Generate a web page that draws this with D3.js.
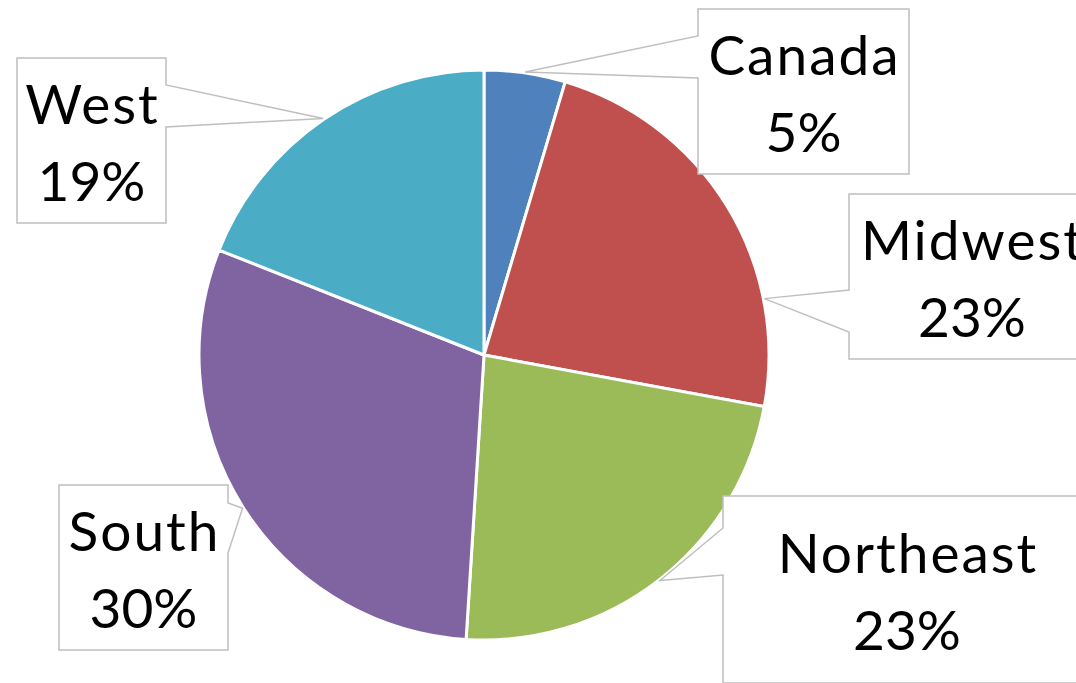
<!DOCTYPE html>
<html>
<head>
<meta charset="utf-8">
<script src="https://cdn.jsdelivr.net/npm/d3@7"></script>
<style>
  body { margin: 0; background: #fff; }
  svg { display: block; }
</style>
</head>
<body>
<div class="container"></div>
<script>
// regions and their share
var regions = ['Canada', 'Midwest', 'Northeast', 'South', 'West'];
var shares = [4.6, 23.3, 23.1, 30.0, 19.0];
var colors = ['#4F81BD', '#C0504D', '#9BBB59', '#8064A2', '#4BACC6'];

// callout boxes: x, y, w, h, which side the pointer leaves from, pointer base (y1,y2),
// and where along the slice the pointer tip lands (0..1)
var callouts = [
  { x: 698, y: 9,   w: 211, h: 165, side: 'left',  b1: 36,  b2: 78,  at: 0.5 },
  { x: 849, y: 194, w: 246, h: 165, side: 'left',  b1: 290, b2: 332, at: 0.74 },
  { x: 723, y: 496, w: 368, h: 187, side: 'left',  b1: 528, b2: 575, at: 0.5 },
  { x: 59,  y: 485, w: 169, h: 165, side: 'right', b1: 503, b2: 553, at: 0.5 },
  { x: 17,  y: 58,  w: 149, h: 165, side: 'right', b1: 85,  b2: 127, at: 0.5 }
];

const width = 1076;
const height = 683;
const cx = 484, cy = 355;
const radius = 285;

const svg = d3
  .select('.container')
  .append('svg')
  .attr('width', width)
  .attr('height', height);

const total = d3.sum(shares);
const pct = d3.format('.0%');

const pie = d3.pie().sort(null).value((d) => d.value);
const arcs = pie(regions.map((r, i) => ({ name: r, value: shares[i], i: i })));

const arc = d3.arc().innerRadius(0).outerRadius(radius);

const g = svg.append('g').attr('transform', 'translate(' + cx + ',' + cy + ')');

g.selectAll('path')
  .data(arcs)
  .join('path')
  .attr('d', arc)
  .attr('fill', (d) => colors[d.data.i])
  .attr('stroke', '#fff')
  .attr('stroke-width', 3)
  .attr('stroke-linejoin', 'round');

// pointer tip on the rim of each slice
function tipOf(d, c) {
  const a = d.startAngle + (d.endAngle - d.startAngle) * c.at;
  return [cx + Math.sin(a) * (radius + 1), cy - Math.cos(a) * (radius + 1)];
}

function calloutPath(c, tip) {
  const x = c.x, y = c.y, w = c.w, h = c.h;
  if (c.side === 'left') {
    return 'M' + x + ',' + y + 'H' + (x + w) + 'V' + (y + h) + 'H' + x +
      'V' + c.b2 + 'L' + tip[0] + ',' + tip[1] + 'L' + x + ',' + c.b1 + 'Z';
  }
  return 'M' + x + ',' + y + 'H' + (x + w) + 'V' + c.b1 + 'L' + tip[0] + ',' + tip[1] +
    'L' + (x + w) + ',' + c.b2 + 'V' + (y + h) + 'H' + x + 'Z';
}

const labels = svg.append('g')
  .selectAll('g')
  .data(arcs)
  .join('g');

labels.append('path')
  .attr('d', (d) => calloutPath(callouts[d.data.i], tipOf(d, callouts[d.data.i])))
  .attr('fill', '#fff')
  .attr('stroke', '#BFBFBF')
  .attr('stroke-width', 1.5)
  .attr('stroke-linejoin', 'miter');

const txt = labels.append('text')
  .attr('font-family', 'Lato, "Open Sans", sans-serif')
  .attr('font-size', 55)
  .attr('fill', '#000')
  .attr('text-anchor', 'middle');

txt.append('tspan')
  .attr('x', (d) => callouts[d.data.i].x + callouts[d.data.i].w / 2 + 1)
  .attr('y', (d) => callouts[d.data.i].y + callouts[d.data.i].h / 2 - 17)
  .attr('letter-spacing', 2)
  .text((d) => d.data.name);

txt.append('tspan')
  .attr('x', (d) => callouts[d.data.i].x + callouts[d.data.i].w / 2)
  .attr('y', (d) => callouts[d.data.i].y + callouts[d.data.i].h / 2 + 60.5)
  .text((d) => pct(d.data.value / total));
</script>
</body>
</html>
